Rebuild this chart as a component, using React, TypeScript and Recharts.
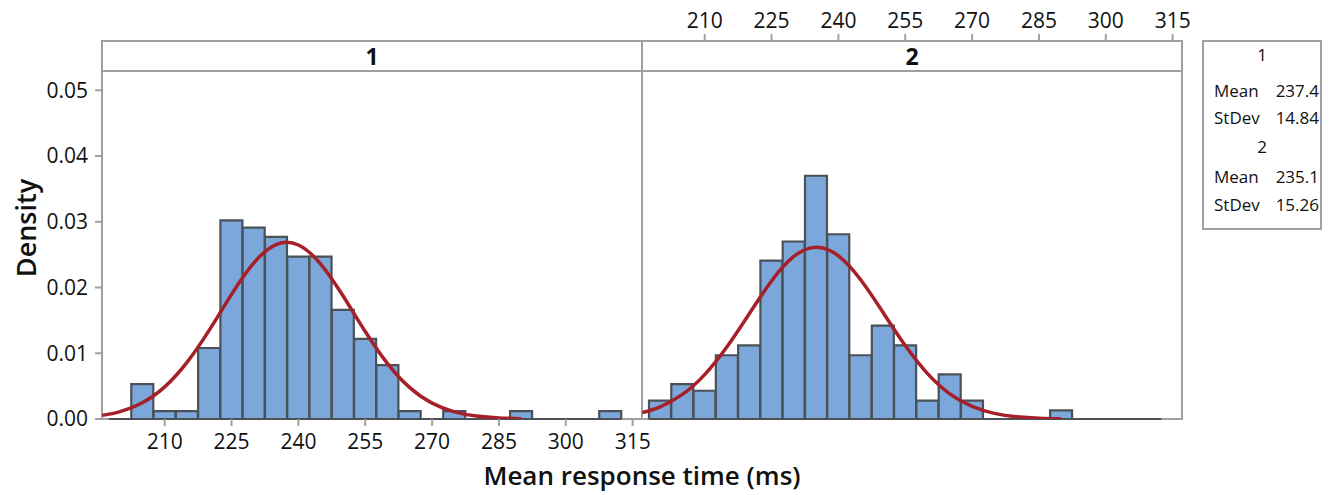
import React from 'react';
import { ComposedChart, Bar, Line, XAxis, YAxis, ReferenceLine } from 'recharts';

const binCenters = [200, 205, 210, 215, 220, 225, 230, 235, 240, 245, 250, 255, 260, 265, 270, 275, 280, 285, 290, 295, 300, 305, 310];
const group1Density = [0, 0.0053, 0.0012, 0.0012, 0.0108, 0.0302, 0.0291, 0.0277, 0.0247, 0.0247, 0.0166, 0.0122, 0.0082, 0.0012, 0, 0.0012, 0, 0, 0.0012, 0, 0, 0, 0.0012];
const group2Density = [0.0028, 0.0053, 0.0043, 0.0097, 0.0112, 0.0241, 0.027, 0.037, 0.0281, 0.0097, 0.0142, 0.0112, 0.0028, 0.0068, 0.0028, 0, 0, 0, 0.0013, 0, 0, 0, 0];

const fitX = [196, 200, 205, 210, 215, 220, 225, 230, 235, 240, 245, 250, 255, 260, 265, 270, 275, 280, 285, 290];
const group1Fit = [0.00055, 0.00112, 0.00248, 0.00489, 0.00861, 0.01351, 0.01896, 0.02374, 0.02653, 0.02647, 0.02357, 0.01875, 0.01331, 0.00843, 0.00477, 0.00241, 0.00109, 0.00044, 0.00016, 0.00005];
const group2Fit = [0.00098, 0.00186, 0.00374, 0.00675, 0.01098, 0.01601, 0.0210, 0.02472, 0.02614, 0.02482, 0.02118, 0.01623, 0.01117, 0.00691, 0.00383, 0.00191, 0.00085, 0.00034, 0.00012, 0.00004];

const xTicks = [210, 225, 240, 255, 270, 285, 300, 315];
const yTicks = [0, 0.01, 0.02, 0.03, 0.04, 0.05];

const groups = [
  { name: '1', mean: '237.4', stdev: '14.84' },
  { name: '2', mean: '235.1', stdev: '15.26' },
];

const X_MIN = 195.93;
const X_MAX = 317.1;
const Y_MAX = 0.0575;

const FONT = '"Open Sans", sans-serif';
const FRAME = '#a0a0a0';
const BAR_FILL = '#7ba7da';
const BAR_EDGE = '#4b5157';
const FIT = '#a52028';

const histRows = (vals: number[]) => binCenters.map((x, i) => ({ x, d: vals[i] }));
const fitRows = (vals: number[]) => fitX.map((x, i) => ({ x, f: vals[i] }));

const tickStyle = { fontSize: 21, fill: '#111', fontFamily: FONT };

const Panel = ({ density, fit, side }: { density: number[]; fit: number[]; side: 'left' | 'right' }) => {
  const isLeft = side === 'left';
  return (
    <ComposedChart
      width={isLeft ? 680 : 570}
      height={460}
      data={histRows(density)}
      barCategoryGap={0}
      barGap={0}
      margin={isLeft ? { top: 41, right: 38, bottom: 0, left: 0 } : { top: 0, right: 30, bottom: 41, left: 0 }}
    >
      <XAxis
        type="number"
        dataKey="x"
        domain={[X_MIN, X_MAX]}
        allowDataOverflow
        ticks={xTicks}
        orientation={isLeft ? 'bottom' : 'top'}
        height={41}
        axisLine={false}
        tickLine={{ stroke: FRAME, strokeWidth: 2 }}
        tickSize={7}
        tickMargin={isLeft ? 8 : 6}
        tick={tickStyle}
        interval={0}
      />
      <XAxis xAxisId="fit" type="number" dataKey="x" domain={[X_MIN, X_MAX]} allowDataOverflow hide />
      <YAxis
        type="number"
        domain={[0, Y_MAX]}
        allowDataOverflow
        ticks={yTicks}
        hide={!isLeft}
        width={102}
        axisLine={false}
        tickLine={{ stroke: FRAME, strokeWidth: 2 }}
        tickSize={7}
        tickMargin={7}
        tick={tickStyle}
        tickFormatter={(v: number) => v.toFixed(2)}
        interval={0}
      />
      <Bar dataKey="d" fill={BAR_FILL} stroke={BAR_EDGE} strokeWidth={2.2} isAnimationActive={false} />
      <ReferenceLine
        segment={[{ x: 197.5, y: 0 }, { x: 312.5, y: 0 }]}
        stroke={BAR_EDGE}
        strokeWidth={2.2}
        ifOverflow="visible"
      />
      <Line
        xAxisId="fit"
        data={fitRows(fit)}
        dataKey="f"
        type="natural"
        stroke={FIT}
        strokeWidth={3.5}
        dot={false}
        activeDot={false}
        isAnimationActive={false}
      />
    </ComposedChart>
  );
};

const abs = (s: React.CSSProperties): React.CSSProperties => ({ position: 'absolute', ...s });

const statRows = [
  { key: 'h1', y: 42, label: groups[0].name, value: '' },
  { key: 'm1', y: 78, label: 'Mean', value: groups[0].mean },
  { key: 's1', y: 105, label: 'StDev', value: groups[0].stdev },
  { key: 'h2', y: 134, label: groups[1].name, value: '' },
  { key: 'm2', y: 164, label: 'Mean', value: groups[1].mean },
  { key: 's2', y: 192, label: 'StDev', value: groups[1].stdev },
];

export default function App() {
  return (
    <div style={{ position: 'absolute', left: 0, top: 0, width: 1333, height: 495, background: '#fff', fontFamily: FONT, color: '#111' }}>
      {/* panel frames and strips, under the charts */}
      <div style={abs({ left: 101, top: 40, width: 1082, height: 380, border: `2px solid ${FRAME}`, boxSizing: 'border-box' })} />
      <div style={abs({ left: 101, top: 70, width: 1082, height: 2, background: FRAME })} />
      <div style={abs({ left: 641, top: 40, width: 2, height: 380, background: FRAME })} />
      {groups.map((g, i) => (
        <div
          key={g.name}
          style={abs({ left: 102 + i * 540, top: 41, width: 540, height: 30, lineHeight: '30px', textAlign: 'center', fontSize: 23, fontWeight: 700 })}
        >
          {g.name}
        </div>
      ))}

      <div style={abs({ left: 0, top: 0 })}>
        <Panel density={group1Density} fit={group1Fit} side="left" />
      </div>
      <div style={abs({ left: 642, top: 0 })}>
        <Panel density={group2Density} fit={group2Fit} side="right" />
      </div>

      {/* axis titles */}
      <div style={abs({ left: 102, top: 455, width: 1080, textAlign: 'center', fontSize: 26, fontWeight: 600, lineHeight: '40px' })}>
        Mean response time (ms)
      </div>
      <div
        style={abs({ left: 25, top: 228, transform: 'translate(-50%, -50%) rotate(-90deg)', fontSize: 27, fontWeight: 600, whiteSpace: 'nowrap' })}
      >
        Density
      </div>

      {/* stats box */}
      <div style={abs({ left: 1202, top: 40, width: 120, height: 190, border: `2px solid ${FRAME}`, boxSizing: 'border-box' })} />
      {statRows.map((r) =>
        r.value ? (
          <div key={r.key} style={abs({ left: 1214, top: r.y, width: 105, height: 26, lineHeight: '26px', fontSize: 17, display: 'flex', justifyContent: 'space-between' })}>
            <span>{r.label}</span>
            <span>{r.value}</span>
          </div>
        ) : (
          <div key={r.key} style={abs({ left: 1202, top: r.y, width: 120, height: 26, lineHeight: '26px', fontSize: 17, textAlign: 'center' })}>
            {r.label}
          </div>
        )
      )}
    </div>
  );
}
